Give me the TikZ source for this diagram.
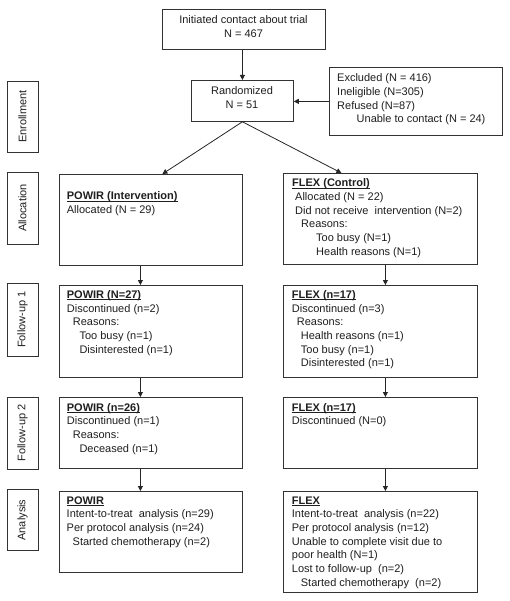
\documentclass[tikz,border=0pt]{standalone}
\usepackage{fontspec}
\setmainfont{Liberation Sans}
\usetikzlibrary{arrows.meta}
\newcommand\myul[1]{\setbox0\hbox{#1}\rlap{\rule[-1.6pt]{\wd0}{0.6pt}}\box0}
\newcommand\ind[1]{\hspace*{#1pt}}
\begin{document}
\begin{tikzpicture}[x=1pt,y=-1pt,
  box/.style={draw=black!80, line width=0.8pt, inner sep=0pt, anchor=north west},
  txt/.style={inner sep=0pt, anchor=base west, font=\fontsize{11}{13.7}\selectfont, text=black!88},
  ctxt/.style={txt, anchor=base},
  lab/.style={draw=black!80, line width=0.8pt, inner sep=0pt, rotate=90, minimum height=31pt, font=\fontsize{11}{13.7}\selectfont, text=black!88},
  arr/.style={draw=black!85, line width=0.8pt, -{Triangle[length=5pt,width=5pt]}}]
\useasboundingbox (0,0) rectangle (509,601);
\fill[white] (0,0) rectangle (509,601);

% side labels
\node[lab, minimum width=71pt] (lab1) at (22.5,116.5) {Enrollment};
\node[lab, minimum width=72pt] (lab2) at (22.5,208) {Allocation};
\node[lab, minimum width=73pt] (lab3) at (22.5,319.5) {Follow-up 1};
\node[lab, minimum width=72pt] (lab4) at (22.5,433) {Follow-up 2};
\node[lab, minimum width=61pt] (lab5) at (22.5,520) {Analysis};

% top
\node[box, minimum width=163pt, minimum height=40pt] (init) at (162,9) {};
\node[ctxt] (initt) at (243.5,23.4) {\begin{tabular}[t]{@{}c@{}}Initiated contact about trial\\ N = 467\end{tabular}};
\node[box, minimum width=102pt, minimum height=41pt] (rand) at (191,80) {};
\node[ctxt] (randt) at (242,95) {\begin{tabular}[t]{@{}c@{}}Randomized\\ N = 51\end{tabular}};
\node[box, minimum width=173pt, minimum height=68pt] (excl) at (329,67) {};
\node[txt] (exclt) at (337,81.7) {\begin{tabular}[t]{@{}l@{}}Excluded (N = 416)\\ Ineligible (N=305)\\ Refused (N=87)\\ \ind{19.5}Unable to contact (N = 24)\end{tabular}};

% allocation
\node[box, minimum width=183pt, minimum height=91pt] (a1L) at (59,174) {};
\node[txt] (a1Lt) at (66.7,200) {\begin{tabular}[t]{@{}l@{}}\textbf{\myul{POWIR (Intervention)}}\\ Allocated (N = 29)\end{tabular}};
\node[box, minimum width=194pt, minimum height=91pt] (a1R) at (283,173) {};
\node[txt] (a1Rt) at (292,186.7) {\begin{tabular}[t]{@{}l@{}}\textbf{\myul{FLEX (Control)}}\\ \ind{3}Allocated (N = 22)\\ \ind{3}Did not receive\ \ intervention (N=2)\\ \ind{9}Reasons:\\ \ind{24}Too busy (N=1)\\ \ind{24}Health reasons (N=1)\end{tabular}};

% follow-up 1
\node[box, minimum width=183pt, minimum height=92pt] (f1L) at (59,285) {};
\node[txt] (f1Lt) at (66.7,298.4) {\begin{tabular}[t]{@{}l@{}}\textbf{\myul{POWIR (N=27)}}\\ Discontinued (n=2)\\ \ind{6}Reasons:\\ \ind{12.6}Too busy (n=1)\\ \ind{12.6}Disinterested (n=1)\end{tabular}};
\node[box, minimum width=194pt, minimum height=92pt] (f1R) at (283,285) {};
\node[txt] (f1Rt) at (291.7,298.4) {\begin{tabular}[t]{@{}l@{}}\textbf{\myul{FLEX (n=17)}}\\ Discontinued (n=3)\\ \ind{5}Reasons:\\ \ind{9}Health reasons (n=1)\\ \ind{9}Too busy (n=1)\\ \ind{9}Disinterested (n=1)\end{tabular}};

% follow-up 2
\node[box, minimum width=183pt, minimum height=71pt] (f2L) at (59,397) {};
\node[txt] (f2Lt) at (66.7,411) {\begin{tabular}[t]{@{}l@{}}\textbf{\myul{POWIR (n=26)}}\\ Discontinued (n=1)\\ \ind{6}Reasons:\\ \ind{12.6}Deceased (n=1)\end{tabular}};
\node[box, minimum width=194pt, minimum height=71pt] (f2R) at (283,397) {};
\node[txt] (f2Rt) at (291.7,411) {\begin{tabular}[t]{@{}l@{}}\textbf{\myul{FLEX (n=17)}}\\ Discontinued (N=0)\end{tabular}};

% analysis
\node[box, minimum width=183pt, minimum height=81pt] (anL) at (59,491) {};
\node[txt] (anLt) at (66.5,504) {\begin{tabular}[t]{@{}l@{}}\textbf{\myul{POWIR}}\\ Intent-to-treat\ \ analysis (n=29)\\ Per protocol analysis (n=24)\\ \ind{6}Started chemotherapy (n=2)\end{tabular}};
\node[box, minimum width=194pt, minimum height=101pt] (anR) at (283,491) {};
\node[txt] (anRt) at (291.7,504) {\begin{tabular}[t]{@{}l@{}}\textbf{\myul{FLEX}}\\ Intent-to-treat\ \ analysis (n=22)\\ Per protocol analysis (n=12)\\ Unable to complete visit due to\\ poor health (N=1)\\ Lost to follow-up\ \ (n=2)\\ \ind{9}Started chemotherapy\ \ (n=2)\end{tabular}};

% connectors
\draw[arr] (init.south -| rand.north) -- (rand.north);
\draw[arr] (excl.west) -- (excl.west -| rand.east);
\draw[arr] (rand.south) -- ([xshift=11.5pt]a1L.north);
\draw[arr] (rand.south) -- ([xshift=-39pt]a1R.north);
\draw[arr] ([xshift=-10.5pt]a1L.south) -- ([xshift=-10.5pt]f1L.north);
\draw[arr] ([xshift=5pt]a1R.south) -- ([xshift=5pt]f1R.north);
\draw[arr] ([xshift=-10.5pt]f1L.south) -- ([xshift=-10.5pt]f2L.north);
\draw[arr] ([xshift=5pt]f1R.south) -- ([xshift=5pt]f2R.north);
\draw[arr] ([xshift=-10.5pt]f2L.south) -- ([xshift=-10.5pt]anL.north);
\draw[arr] ([xshift=5pt]f2R.south) -- ([xshift=5pt]anR.north);
\end{tikzpicture}
\end{document}
